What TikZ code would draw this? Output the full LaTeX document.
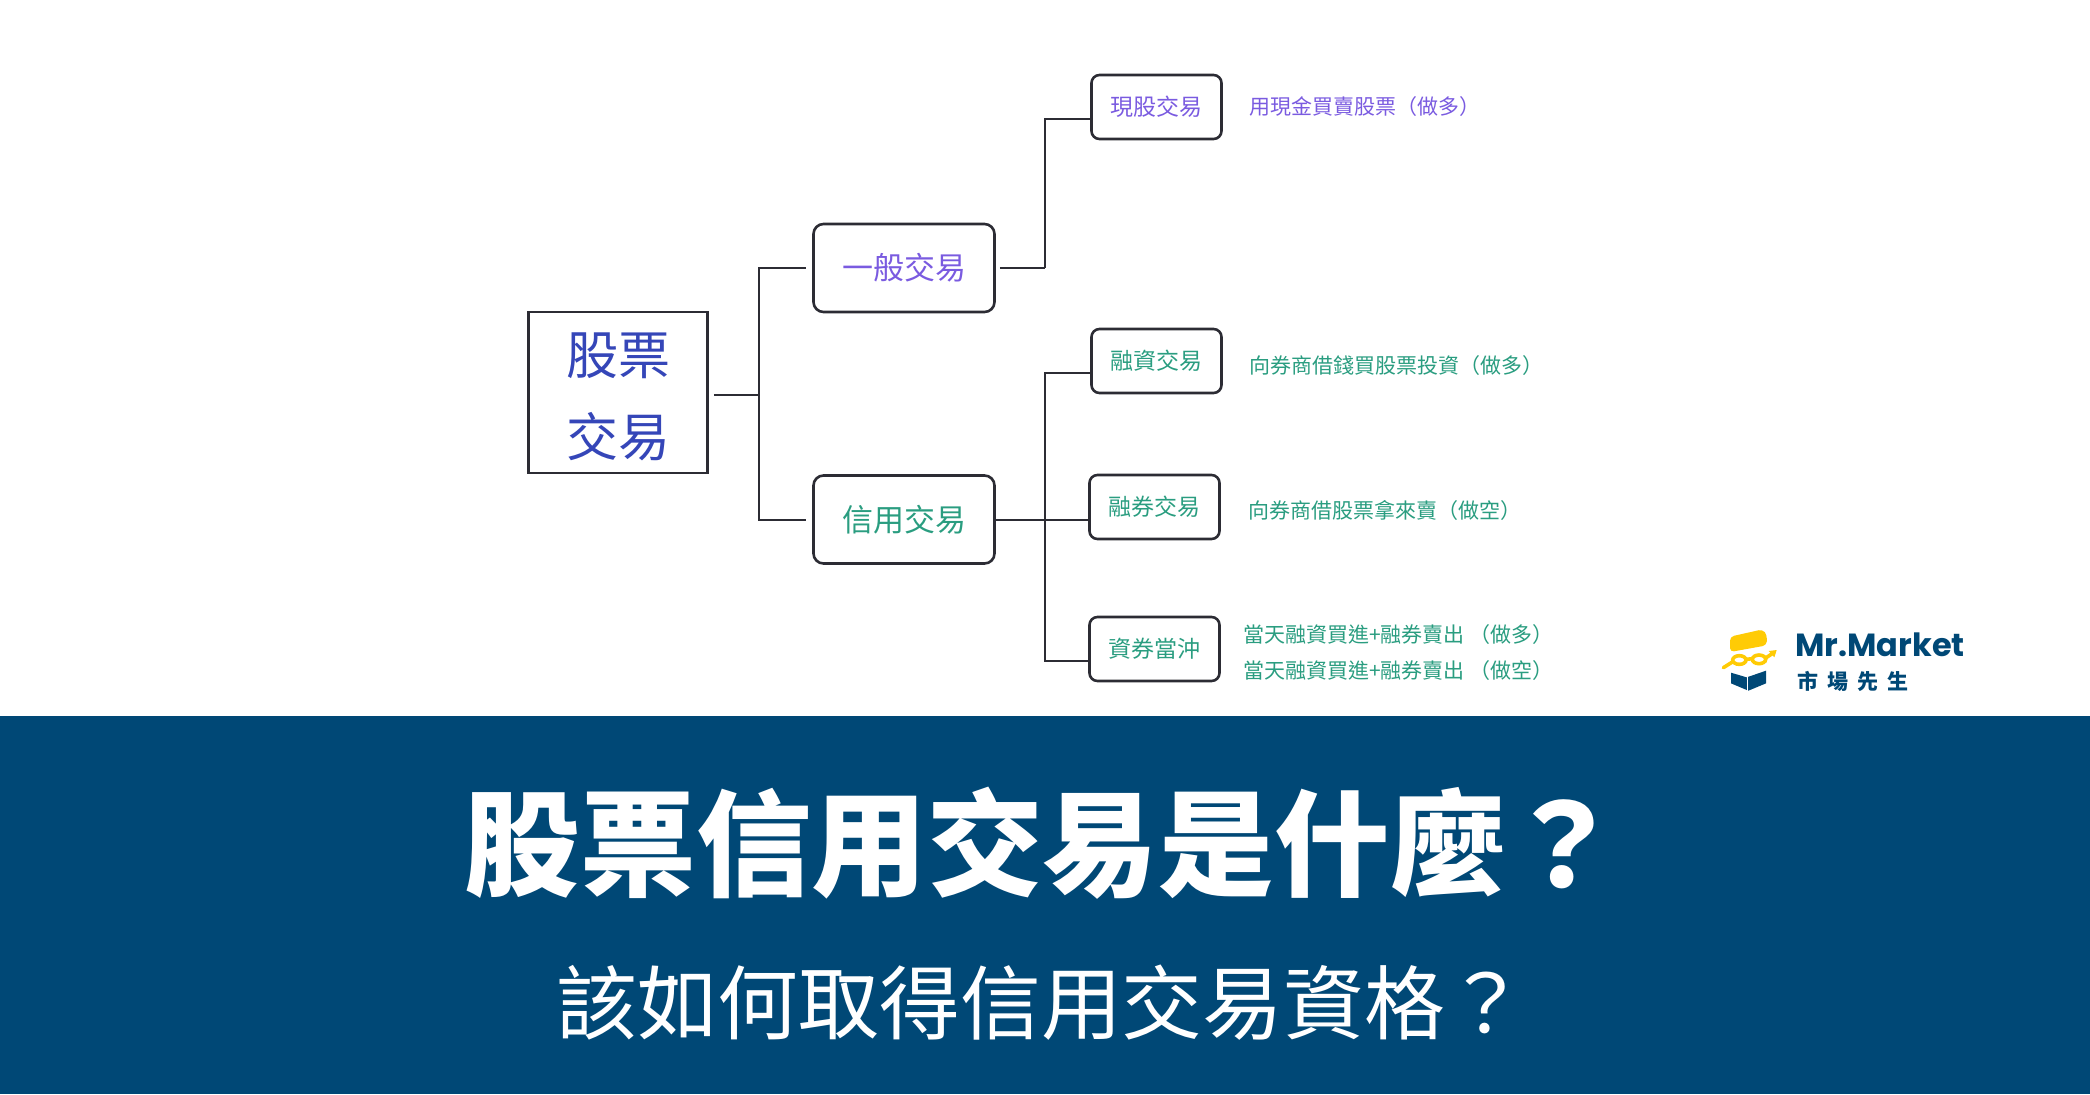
\documentclass[tikz,border=0pt]{standalone}
\usepackage{fontspec}
\setmainfont{Noto Sans CJK TC}
\newfontfamily\brandfont{Poppins}
\usetikzlibrary{positioning}
\definecolor{barblue}{HTML}{004876}
\definecolor{rootblue}{HTML}{3546B8}
\definecolor{spotpurple}{HTML}{7A5BE0}
\definecolor{creditgreen}{HTML}{2A9D80}
\definecolor{wireblack}{HTML}{2C2C34}
\definecolor{logoyellow}{HTML}{FFCB05}

\begin{document}
\begin{tikzpicture}[
    node distance=13pt,
    rootbox/.style={rectangle, minimum width=89.5pt, minimum height=80.5pt, inner sep=0pt, align=center, draw=wireblack, line width=1.3pt, text=rootblue, font=\fontsize{26}{41}\selectfont},
    midbox/.style={rectangle, rounded corners=5pt, minimum width=90.5pt, minimum height=44pt, inner sep=0pt, draw=wireblack, line width=1.3pt, font=\fontsize{15.5}{18}\selectfont},
    leafbox/.style={rectangle, rounded corners=4pt, minimum width=65pt, minimum height=32pt, inner sep=0pt, draw=wireblack, line width=1.3pt, font=\fontsize{11.5}{14}\selectfont},
    note/.style={inner sep=0pt, anchor=west, font=\fontsize{10.5}{12}\selectfont},
    wire/.style={draw=wireblack, line width=1pt}
]
\useasboundingbox (0,0) rectangle (1045pt,-547pt);

% Banner
\node (banner) [fill=barblue, minimum width=1045pt, minimum height=189pt, inner sep=0pt, anchor=north west] at (0,-358pt) {};
\node (title) [below=63.5pt of banner.north, anchor=center, xshift=-1.3pt, text=white, font=\fontsize{57.8}{60}\selectfont\bfseries] {股票信用交易是什麼？};
\node (subtitle) [below=143.5pt of banner.north, anchor=center, xshift=-2.2pt, text=white, font=\fontsize{40.4}{44}\selectfont] {該如何取得信用交易資格？};

% Tree
\node (root) [rootbox] at (309pt,-196.25pt) {\rule{0pt}{25.3pt}股票\\交易};
\node (general) [midbox, text=spotpurple, right=51.7pt of root, yshift=62.25pt] {一般交易};
\node (credit) [midbox, text=creditgreen, right=51.7pt of root, yshift=-63.5pt] {信用交易};
\node (spot) [leafbox, text=spotpurple, right=47.2pt of general, yshift=80.5pt] {現股交易};
\node (margin) [leafbox, text=creditgreen, right=47.2pt of credit, yshift=79.25pt] {融資交易};
\node (short) [leafbox, text=creditgreen, right=46.2pt of credit, yshift=6.25pt] {融券交易};
\node (daytrade) [leafbox, text=creditgreen, right=46.2pt of credit, yshift=-64.75pt] {資券當沖};

% Notes
\node (spotnote) [note, text=spotpurple, right=of spot] {用現金買賣股票（做多）};
\node (marginnote) [note, text=creditgreen, right=of margin, yshift=-2.3pt] {向券商借錢買股票投資（做多）};
\node (shortnote) [note, text=creditgreen, right=13.5pt of short, yshift=-1.7pt] {向券商借股票拿來賣（做空）};
\node (longnote) [note, text=creditgreen, right=11pt of daytrade, yshift=7.3pt] {當天融資買進+融券賣出 （做多）};
\node (shortnoteb) [note, text=creditgreen, below=7.6pt of longnote.south west, anchor=north west] {當天融資買進+融券賣出 （做空）};

% Hubs
\coordinate (roothub) at ([xshift=25pt,yshift=-1.25pt]root.east);
\coordinate (generalhub) at ([xshift=24.5pt]general.east);
\coordinate (credithub) at ([xshift=24.7pt]credit.east);

% Connectors
\draw [wire, shorten <=2.5pt] ([yshift=-1.25pt]root.east) -- (roothub);
\draw [wire, shorten >=3pt] (roothub) |- (general.west);
\draw [wire, shorten >=3pt] (roothub) |- (credit.west);
\draw [wire, shorten <=2pt] (general.east) -- (generalhub);
\draw [wire] (generalhub) |- ([yshift=-6pt]spot.west);
\draw [wire] (credit.east) -- (short.west |- credit.east);
\draw [wire] (credithub) |- ([yshift=-6pt]margin.west);
\draw [wire] (credithub) |- ([yshift=-6pt]daytrade.west);

% Logo
\begin{scope}[shift={(840pt,-300pt)}, x=0.1667pt, y=-0.1667pt]
    \fill [logoyellow, rounded corners=2pt] (150,156) -- (150,110) -- (248,88) -- (261,105) -- (260,136) -- cycle;
    \draw [logoyellow, line width=1.8pt, line cap=round] (130,203) -- (157,186);
    \draw [logoyellow, line width=1.8pt] (178,180) ellipse [x radius=20, y radius=13];
    \draw [logoyellow, line width=1.8pt] (237,178) ellipse [x radius=20, y radius=13];
    \draw [logoyellow, line width=1.8pt] (198,178) -- (217,176);
    \draw [logoyellow, line width=1.8pt] (257,174) -- (278,160);
    \fill [logoyellow] (266,153) -- (290,150) -- (283,172) -- cycle;
    \fill [barblue] (153,218) -- (200,232) -- (258,212) -- (258,250) -- (205,272) -- (153,250) -- cycle;
    \draw [white, line width=0.5pt] (203,232) -- (203,272);
    \node (brand) [anchor=west, inner sep=0pt, text=barblue, font=\brandfont\bfseries\fontsize{16}{16}\selectfont] at (345,133) {Mr.Market};
    \node (brandzh) [anchor=west, inner sep=0pt, text=barblue, font=\fontsize{10.5}{12}\selectfont\bfseries] at (350,244) {市\hspace{4.5pt}場\hspace{4.5pt}先\hspace{4.5pt}生};
\end{scope}

\end{tikzpicture}
\end{document}
